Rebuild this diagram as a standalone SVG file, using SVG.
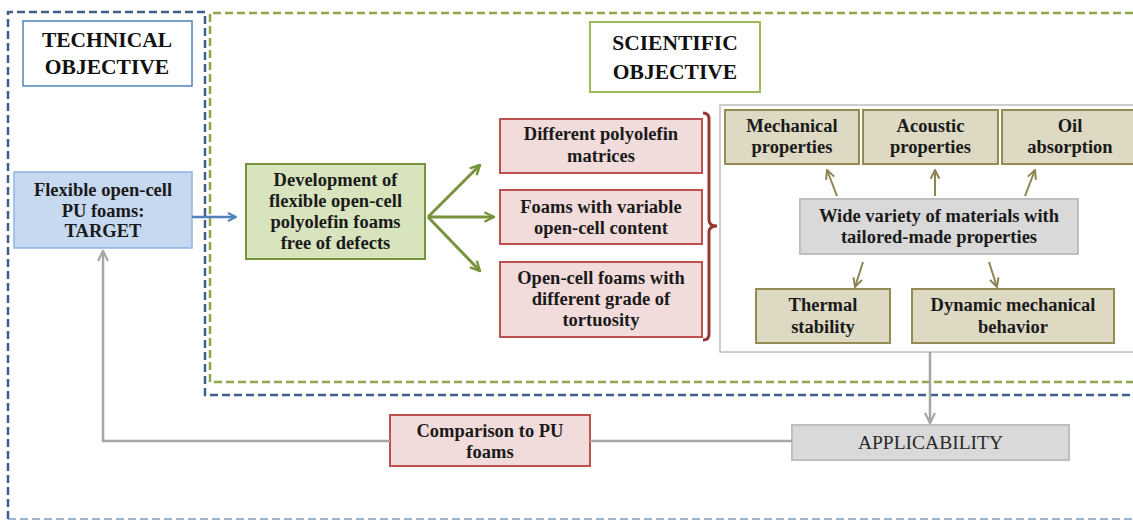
<svg xmlns="http://www.w3.org/2000/svg" width="1133" height="521" viewBox="0 0 1133 521">
<defs>
<style>
.t{font-family:"Liberation Serif","Times New Roman",serif;font-weight:bold;font-size:18.5px;fill:#1a1a1a;text-anchor:middle}
.h{font-family:"Liberation Serif","Times New Roman",serif;font-weight:bold;font-size:21.5px;fill:#111;text-anchor:middle}
.r{font-family:"Liberation Serif","Times New Roman",serif;font-size:19.5px;fill:#2a2a2a;text-anchor:middle}
.pink{fill:#F2DCDB;stroke:#C0504D;stroke-width:2}
.tan{fill:#DDD9C3;stroke:#948A54;stroke-width:2}
.gray{fill:#D9D9D9;stroke:#BFBFBF;stroke-width:2}
</style>
<marker id="ab" viewBox="0 0 10 10" refX="9" refY="5" markerWidth="4" markerHeight="4" orient="auto"><path d="M1,1 L9,5 L1,9" fill="none" stroke="#4F81BD" stroke-width="2"/></marker>
<marker id="ag" viewBox="0 0 10 10" refX="9" refY="5" markerWidth="4" markerHeight="4" orient="auto"><path d="M1,1 L9,5 L1,9" fill="none" stroke="#77933C" stroke-width="2"/></marker>
<marker id="ao" viewBox="0 0 10 10" refX="9" refY="5" markerWidth="5.5" markerHeight="5.5" orient="auto"><path d="M1,1 L9,5 L1,9" fill="none" stroke="#8C8453" stroke-width="1.8"/></marker>
<marker id="agr" viewBox="0 0 10 10" refX="9" refY="5" markerWidth="5" markerHeight="5" orient="auto"><path d="M1,1 L9,5 L1,9" fill="none" stroke="#A6A6A6" stroke-width="1.8"/></marker>
</defs>
<rect width="1133" height="521" fill="#fff"/>
<g id="frames" fill="none">
<path d="M8,519 H1133" stroke="#7F9DC0" stroke-width="1.5" stroke-dasharray="8,4"/>
<path d="M8,519 V12 H205 V395 H1133" stroke="#3F5F8A" stroke-width="2.5" stroke-dasharray="8,4"/>
<path d="M1133,13 H210 V382 H1133" stroke="#8FA84A" stroke-width="2.5" stroke-dasharray="8,4"/>
</g>
<g id="technical">
<rect x="23" y="21" width="169" height="65" fill="#fff" stroke="#4F81BD" stroke-width="1.5"/>
<text class="h" x="107" y="47">TECHNICAL</text>
<text class="h" x="107" y="74">OBJECTIVE</text>
</g>
<g id="scientific">
<rect x="590" y="22" width="170" height="70" fill="#fff" stroke="#9BBB59" stroke-width="2"/>
<text class="h" x="675" y="50">SCIENTIFIC</text>
<text class="h" x="675" y="79">OBJECTIVE</text>
</g>
<g id="target">
<rect x="14" y="172" width="178" height="76" fill="#C6D9F1" stroke="#8EB4E3" stroke-width="1.5"/>
<text class="t" x="103" y="196">Flexible open-cell</text>
<text class="t" x="103" y="217">PU foams:</text>
<text class="t" x="103" y="237">TARGET</text>
</g>
<g id="development">
<rect x="246" y="164" width="179" height="95" fill="#D7E4BD" stroke="#77933C" stroke-width="2"/>
<text class="t" x="335.5" y="186">Development of</text>
<text class="t" x="335.5" y="207">flexible open-cell</text>
<text class="t" x="335.5" y="228">polyolefin foams</text>
<text class="t" x="335.5" y="249">free of defects</text>
</g>
<g id="matrices">
<rect class="pink" x="500" y="119" width="202" height="54"/>
<text class="t" x="601" y="140">Different polyolefin</text>
<text class="t" x="601" y="162">matrices</text>
</g>
<g id="opencell">
<rect class="pink" x="500" y="190" width="202" height="54"/>
<text class="t" x="601" y="213">Foams with variable</text>
<text class="t" x="601" y="234">open-cell content</text>
</g>
<g id="tortuosity">
<rect class="pink" x="500" y="262" width="202" height="75"/>
<text class="t" x="601" y="284">Open-cell foams with</text>
<text class="t" x="601" y="305">different grade of</text>
<text class="t" x="601" y="326">tortuosity</text>
</g>
<g id="brace">
<path d="M703,113 Q709,113 709,119 V220 Q709,226 717,226 Q709,226 709,232 V334 Q709,340 703,340" fill="none" stroke="#953735" stroke-width="3"/>
</g>
<g id="properties">
<rect x="720" y="105" width="420" height="247" fill="#fff" stroke="#BFBFBF" stroke-width="1.5"/>
</g>
<g id="mechanical">
<rect class="tan" x="725" y="110" width="134" height="54"/>
<text class="t" x="792" y="132">Mechanical</text>
<text class="t" x="792" y="153">properties</text>
</g>
<g id="acoustic">
<rect class="tan" x="863" y="110" width="135" height="54"/>
<text class="t" x="930.5" y="132">Acoustic</text>
<text class="t" x="930.5" y="153">properties</text>
</g>
<g id="oil">
<rect class="tan" x="1002" y="110" width="140" height="54"/>
<text class="t" x="1070" y="132">Oil</text>
<text class="t" x="1070" y="153">absorption</text>
</g>
<g id="variety">
<rect class="gray" x="800" y="199" width="278" height="55"/>
<text class="t" x="939" y="222">Wide variety of materials with</text>
<text class="t" x="939" y="243">tailored-made properties</text>
</g>
<g id="thermal">
<rect class="tan" x="756" y="289" width="134" height="54"/>
<text class="t" x="823" y="311">Thermal</text>
<text class="t" x="823" y="333">stability</text>
</g>
<g id="dynamic">
<rect class="tan" x="912" y="289" width="202" height="54"/>
<text class="t" x="1013" y="311">Dynamic mechanical</text>
<text class="t" x="1013" y="333">behavior</text>
</g>
<g id="applicability">
<rect x="792" y="425" width="277" height="35" fill="#D9D9D9" stroke="#BFBFBF" stroke-width="2"/>
<text class="r" x="930.5" y="449">APPLICABILITY</text>
</g>
<g id="comparison">
<rect class="pink" x="390" y="415" width="200" height="51"/>
<text class="t" x="490" y="437">Comparison to PU</text>
<text class="t" x="490" y="458">foams</text>
</g>
<g id="connectors" fill="none">
<path d="M192,217 H236" stroke="#4F81BD" stroke-width="2.5" marker-end="url(#ab)"/>
<path d="M428,217 L480,165" stroke="#77933C" stroke-width="3" marker-end="url(#ag)"/>
<path d="M428,217 H494" stroke="#77933C" stroke-width="3" marker-end="url(#ag)"/>
<path d="M428,217 L480,271" stroke="#77933C" stroke-width="3" marker-end="url(#ag)"/>
<path d="M837,196 L827,170" stroke="#8C8453" stroke-width="2" marker-end="url(#ao)"/>
<path d="M935,196 V170" stroke="#8C8453" stroke-width="2" marker-end="url(#ao)"/>
<path d="M1025,196 L1035,170" stroke="#8C8453" stroke-width="2" marker-end="url(#ao)"/>
<path d="M863,262 L855,287" stroke="#8C8453" stroke-width="2" marker-end="url(#ao)"/>
<path d="M989,262 L997,287" stroke="#8C8453" stroke-width="2" marker-end="url(#ao)"/>
<path d="M930,352 V423" stroke="#A6A6A6" stroke-width="2.5" marker-end="url(#agr)"/>
<path d="M792,441 H590" stroke="#A6A6A6" stroke-width="2.5"/>
<path d="M390,441 H103 V251" stroke="#A6A6A6" stroke-width="2.5" marker-end="url(#agr)"/>
</g>
</svg>
